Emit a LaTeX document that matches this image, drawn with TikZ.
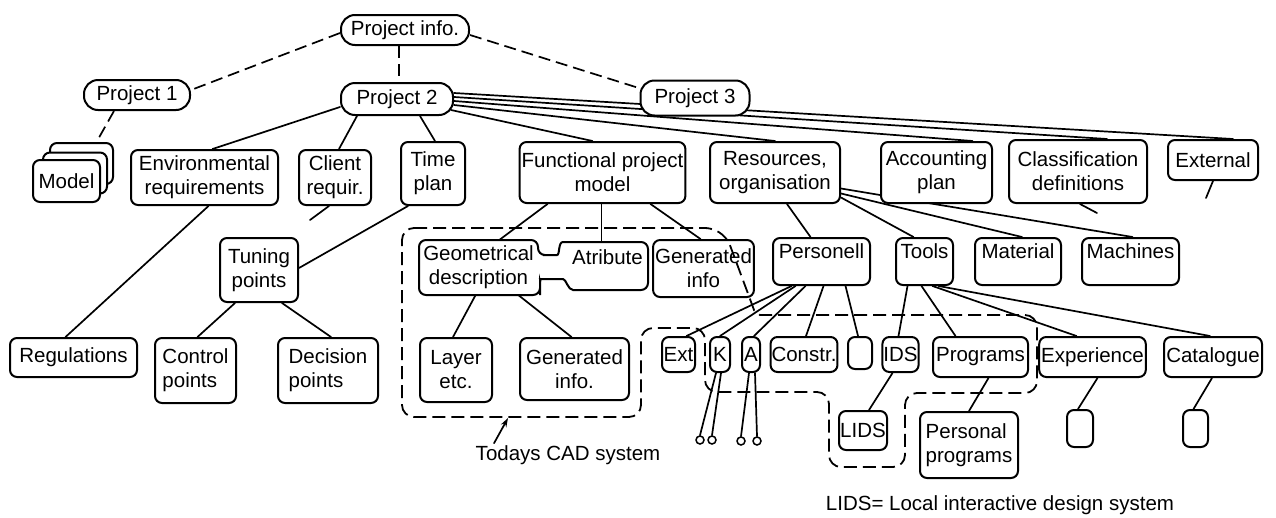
\documentclass[tikz,border=0pt]{standalone}
\usepackage{fontspec}
\setmainfont{Liberation Sans}
\usetikzlibrary{arrows.meta,backgrounds}
\newcommand\boxfont{\fontsize{20.5}{24}\selectfont}
\begin{document}
\begin{tikzpicture}[x=1pt,y=-1pt,
  box/.style={draw, line width=2pt, rounded corners=7pt, fill=white, align=center, inner sep=2pt, font=\boxfont},
  pill/.style={box, rounded corners=14pt},
  plain/.style={inner sep=2pt, align=center, font=\boxfont},
  toptext/.style={text height=15pt, text depth=22pt},
  conn/.style={line width=1.7pt, line cap=round},
  dconn/.style={line width=1.7pt, dash pattern=on 12pt off 6pt},
  outline/.style={line width=1.8pt, dash pattern=on 13pt off 6pt},
  pin/.style={draw, circle, line width=1.5pt, minimum size=8pt, inner sep=0pt, fill=white},
]
\useasboundingbox (0,0) rectangle (1276,517);

% ---- top level ----
\node[pill, minimum width=128pt, minimum height=30pt] (pinfo) at (405,30) {Project info.};
\node[pill, minimum width=106pt, minimum height=30pt] (p1) at (137,95) {Project 1};
\node[pill, minimum width=112pt, minimum height=32pt] (p2) at (397,99) {Project 2};
\node[pill, minimum width=109pt, minimum height=35pt] (p3) at (695,98) {Project 3};

% ---- model stack ----
\node[box, minimum width=63pt, minimum height=41pt] (modelc) at (81.5,163.5) {};
\node[box, minimum width=64pt, minimum height=41pt] (modelb) at (75,173) {};
\node[box, minimum width=67pt, minimum height=42pt] (model) at (66.5,181) {Model};

% ---- second row ----
\node[box, minimum width=147pt, minimum height=55pt] (env) at (204.5,177.5) {Environmental\\requirements};
\node[box, minimum width=72pt, minimum height=55pt] (client) at (335,177.5) {Client\\requir.};
\node[box, minimum width=64pt, minimum height=63pt] (time) at (433,173.5) {Time\\plan};
\node[box, minimum width=165pt, minimum height=61pt] (fpm) at (602.5,172.5) {Functional project\\model};
\node[box, minimum width=130pt, minimum height=61pt] (res) at (775,172.5) {Resources,\\organisation};
\node[box, minimum width=111pt, minimum height=61pt] (acc) at (936.5,172.5) {Accounting\\plan};
\node[box, minimum width=138pt, minimum height=63pt] (cls) at (1078,171.5) {Classification\\definitions};
\node[box, minimum width=90pt, minimum height=40pt] (ext) at (1213,160) {External};

% ---- third row ----
\node[box, minimum width=78pt, minimum height=64pt] (tuning) at (259,270) {Tuning\\points};
\node[plain, minimum width=119pt, minimum height=55pt] (geo) at (478.5,267.5) {Geometrical\\description};
\node[plain, minimum width=81pt, minimum height=30pt] (atr) at (607.5,257) {Atribute};
\node[box, minimum width=93pt, minimum height=57pt] (gen1) at (703.5,268.5) {Generated\\info};
\node[box, toptext, minimum width=97pt, minimum height=47pt] (pers) at (821.5,261.5) {Personell};
\node[box, toptext, minimum width=57pt, minimum height=47pt] (tools) at (924.5,261.5) {Tools};
\node[box, toptext, minimum width=86pt, minimum height=47pt] (mat) at (1018,261.5) {Material};
\node[box, toptext, minimum width=97pt, minimum height=47pt] (mach) at (1130.5,261.5) {Machines};

% ---- fourth row ----
\node[box, minimum width=127pt, minimum height=39pt] (reg) at (73.5,357.5) {Regulations};
\node[box, align=left, minimum width=81pt, minimum height=65pt] (ctrl) at (195.5,370.5) {Control\\points};
\node[box, align=left, minimum width=100pt, minimum height=65pt] (dec) at (328,370.5) {Decision\\points};
\node[box, minimum width=72pt, minimum height=64pt] (layer) at (456,370) {Layer\\etc.};
\node[box, minimum width=109pt, minimum height=62pt] (gen2) at (574.5,369) {Generated\\info.};
\node[box, inner sep=1pt, minimum width=33pt, minimum height=35pt] (extn) at (678.5,354.5) {Ext};
\node[box, inner sep=1pt, minimum width=20pt, minimum height=35pt] (K) at (720,354.5) {K};
\node[box, inner sep=1pt, minimum width=18pt, minimum height=35pt] (A) at (751,354.5) {A};
\node[box, inner sep=1pt, minimum width=66pt, minimum height=35pt] (constr) at (804,354.5) {Constr.};
\node[box, minimum width=24pt, minimum height=32pt] (e1) at (860,353) {};
\node[box, inner sep=1pt, minimum width=33pt, minimum height=35pt] (ids) at (900.5,354.5) {IDS};
\node[box, minimum width=95pt, minimum height=40pt] (prog) at (980.5,357) {Programs};
\node[box, minimum width=105pt, minimum height=40pt] (exp) at (1092.5,357) {Experience};
\node[box, minimum width=98pt, minimum height=40pt] (cat) at (1213,357) {Catalogue};

% ---- fifth row ----
\node[box, inner sep=1pt, minimum width=48pt, minimum height=39pt] (lids) at (863,430.5) {LIDS};
\node[box, align=left, minimum width=98pt, minimum height=66pt] (pprog) at (969,445) {Personal\\programs};
\node[box, minimum width=26pt, minimum height=37pt] (e2) at (1080,428.5) {};
\node[box, minimum width=25pt, minimum height=37pt] (e3) at (1195.5,428.5) {};

\node[pin] (c1) at (700,440) {};
\node[pin] (c2) at (712,440) {};
\node[pin] (c3) at (741,441) {};
\node[pin] (c4) at (757,441) {};

% ---- texts ----
\node[plain] (cadlbl) at (568,455) {Todays CAD system};
\node[plain] (lidsnote) at (1000,505) {LIDS= Local interactive design system};

% ---- free ends ----
\coordinate (cstub) at (310,220);
\coordinate (clsstub) at (1097,213);
\coordinate (extstub) at (1206,198);
\coordinate (cadtip) at (508,418);

% ---- connectors (behind boxes) ----
\begin{scope}[on background layer]
\draw[dconn] ([yshift=-3pt]pinfo.west) -- ([yshift=5pt]p1.east);
\draw[dconn] ([xshift=-6pt]pinfo.south) -- ([xshift=2pt]p2.north);
\draw[dconn] ([yshift=-5pt]pinfo.east) -- (p3.170);
\draw[dconn] ([xshift=-23pt]p1.south) -- ([xshift=15pt]modelc.north);

\draw[conn] ([yshift=-8pt]p2.west) -- ([xshift=8pt]env.north);
\draw[conn] ([xshift=-40pt]p2.south) -- ([xshift=4pt]client.north);
\draw[conn] ([xshift=23pt]p2.south) -- ([xshift=2pt]time.north);
\draw[conn] ([xshift=-3pt,yshift=-11pt]p2.east) -- ([xshift=-10pt]fpm.north);
\draw[conn] ([yshift=-6pt]p2.east) -- (res.north);
\draw[conn] ([yshift=-2pt]p2.east) -- ([xshift=36pt]acc.north);
\draw[conn] ([yshift=2pt]p2.east) -- ([xshift=29pt]cls.north);
\draw[conn] ([yshift=6pt]p2.east) -- ([xshift=20pt]ext.north);

\draw[conn] ([xshift=4pt]env.south) -- ([xshift=-8pt]reg.north);
\draw[conn] ([xshift=-6pt]client.south) -- (cstub);
\draw[conn] ([xshift=-25pt]time.south) -- ([yshift=2pt]tuning.east);
\draw[conn] ([xshift=-24pt]tuning.south) -- ([xshift=2pt]ctrl.north);
\draw[conn] ([xshift=23pt]tuning.south) -- ([xshift=3pt]dec.north);

\draw[conn] ([xshift=-55pt]fpm.south) -- ([xshift=21pt]geo.north);
\draw[conn] ([xshift=-1pt]fpm.south) -- ([xshift=-6pt]atr.north);
\draw[conn] ([xshift=48pt]fpm.south) -- ([xshift=-3pt]gen1.north);
\draw[conn] ([xshift=-3pt]geo.south) -- ([xshift=-3pt]layer.north);
\draw[conn] ([xshift=40pt]geo.south) -- ([xshift=-3pt]gen2.north);

\draw[conn] ([xshift=12pt]res.south) -- ([xshift=-11pt]pers.north);
\draw[conn] ([yshift=-25pt]res.east) -- ([xshift=-11pt]tools.north);
\draw[conn] ([yshift=-21pt]res.east) -- ([xshift=4pt]mat.north);
\draw[conn] ([yshift=-16pt]res.east) -- ([xshift=2pt]mach.north);
\draw[conn] ([xshift=2pt]cls.south) -- (clsstub);
\draw[conn] (ext.south) -- (extstub);

\draw[conn] ([xshift=-30pt]pers.south) -- ([xshift=8pt]extn.north);
\draw[conn] ([xshift=-26pt]pers.south) -- (K.north);
\draw[conn] ([xshift=-16pt]pers.south) -- ([xshift=3pt]A.north);
\draw[conn] ([xshift=2pt]pers.south) -- ([xshift=2pt]constr.north);
\draw[conn] ([xshift=24pt]pers.south) -- ([xshift=-2pt]e1.north);

\draw[conn] ([xshift=-17pt]tools.south) -- ([xshift=-2pt]ids.north);
\draw[conn] ([xshift=-3pt]tools.south) -- ([xshift=-25pt]prog.north);
\draw[conn] ([xshift=8pt]tools.south) -- ([xshift=-16pt]exp.north);
\draw[conn] ([xshift=14pt]tools.south) -- ([xshift=-3pt]cat.north);

\draw[conn] ([xshift=-8pt]ids.south) -- ([xshift=6pt]lids.north);
\draw[conn] ([xshift=8pt]prog.south) -- (pprog.north);
\draw[conn] ([xshift=5pt]exp.south) -- ([xshift=-2pt]e2.north);
\draw[conn] ([xshift=-1pt]cat.south) -- ([xshift=-2pt]e3.north);

\draw[conn] ([xshift=-4pt]K.south) -- (c1.north);
\draw[conn] ([xshift=1pt]K.south) -- (c2.north);
\draw[conn] ([xshift=-2pt]A.south) -- (c3.north);
\draw[conn] ([xshift=4pt]A.south) -- (c4.north);
\end{scope}

% ---- Geometrical description / Atribute joint outline ----
\draw[line width=2pt, rounded corners=7pt]
  (419,240) -- (538,240) -- (538,255) -- (550,255)
  .. controls (560,255) and (558,242) .. (570,242)
  -- (648,242) -- (648,290) -- (580,290)
  .. controls (568,290) and (566,279) .. (556,279)
  -- (547,279) .. controls (541,279) and (540,283) .. (540,288)
  -- (540,295) -- (419,295) -- cycle;

% ---- dashed outline (Todays CAD system / LIDS region) ----
\draw[outline, rounded corners=12pt]
  (402,228) -- (692,228)
  .. controls (720,228) and (728,240) .. (734,256)
  -- (750,299) .. controls (754,310) and (760,315) .. (772,315)
  -- (1037,315) -- (1037,393) -- (905,393) -- (905,467) -- (829,467)
  -- (829,392) -- (705,392) -- (705,328) -- (641,328) -- (641,417)
  -- (402,417) -- cycle;

% ---- arrow to the CAD region ----
\draw[conn, -{Stealth[length=9pt,width=6pt]}] ([xshift=-74pt]cadlbl.north) -- (cadtip);
\end{tikzpicture}
\end{document}
